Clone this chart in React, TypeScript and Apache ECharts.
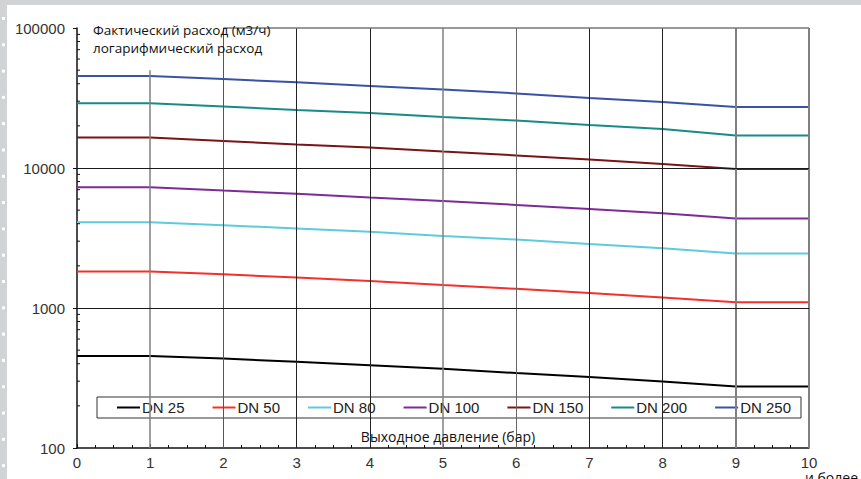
import React, { useEffect, useRef } from "react";
import * as echarts from "echarts";

const pressures = [0, 1, 2, 3, 4, 5, 6, 7, 8, 9, 10];
const seriesNames = ["DN 25", "DN 50", "DN 80", "DN 100", "DN 150", "DN 200", "DN 250"];
const dn25 = [455, 455, 435, 413, 390, 368, 343, 321, 299, 275, 275];
const dn50 = [1820, 1820, 1740, 1650, 1560, 1460, 1370, 1280, 1190, 1100, 1100];
const dn80 = [4100, 4100, 3900, 3700, 3500, 3270, 3080, 2860, 2670, 2450, 2450];
const dn100 = [7300, 7300, 6900, 6550, 6150, 5800, 5450, 5100, 4750, 4350, 4350];
const dn150 = [16500, 16500, 15600, 14700, 14000, 13100, 12300, 11500, 10700, 9850, 9850];
const dn200 = [29000, 29000, 27500, 26000, 24700, 23100, 21800, 20300, 19000, 17100, 17100];
const dn250 = [45500, 45500, 43200, 40900, 38500, 36300, 34100, 31600, 29600, 27300, 27300];
const seriesValues = [dn25, dn50, dn80, dn100, dn150, dn200, dn250];
const seriesColors = ["#000000", "#f5302c", "#5ecbdd", "#7d2b98", "#7a1416", "#178b87", "#3a52a6"];

const yTickLabels = ["100", "1000", "10000", "100000"];
const yMinorTicks = [
  200, 300, 400, 500, 600, 700, 800, 900,
  2000, 3000, 4000, 5000, 6000, 7000, 8000, 9000,
  20000, 30000, 40000, 50000, 60000, 70000, 80000, 90000,
];
const gridXs = [1, 2, 3, 4, 5, 6, 7, 8, 9, 10];
const gridXColors = ["#808080", "#555555", "#222222", "#222222", "#808080", "#666666", "#222222", "#222222", "#808080", "#808080"];
const gridYs = [1000, 10000];

const titleText = "Фактический расход (м3/ч)\nлогарифмический расход";
const xAxisTitle = "Выходное давление (бар)";
const xAxisNote = "и более";

export default function App() {
  const ref = useRef<HTMLDivElement>(null);
  useEffect(() => {
    if (!ref.current) return;
    const chart = echarts.init(ref.current, null, { renderer: "svg" });

    const markData: any[] = [];
    gridXs.forEach((x, i) => {
      const top = x === 1 ? 50000 : 100000;
      const gray = gridXColors[i] === "#808080";
      markData.push([
        { coord: [x, top], lineStyle: { color: gridXColors[i], width: gray ? (x >= 9 ? 2 : 1.5) : 1, type: "solid" } },
        { coord: [x, 100] },
      ]);
    });
    gridYs.forEach((y) => {
      markData.push([
        { coord: [0, y], lineStyle: { color: "#1a1a1a", width: 1, type: "solid" } },
        { coord: [10, y] },
      ]);
    });
    markData.push([
      { coord: [2, 100000], lineStyle: { color: "#777777", width: 1.5, type: "solid" } },
      { coord: [10, 100000] },
    ]);

    const dots: any[] = [];
    for (let k = 0; k < 18; k++) {
      dots.push({ type: "rect", shape: { x: 2, y: 17 + k * 26.3, width: 3, height: 3 }, style: { fill: "#ffffff" }, silent: true });
    }

    const font = "'Liberation Sans', Arial, sans-serif";

    chart.setOption({
      animation: false,
      backgroundColor: "#ffffff",
      textStyle: { fontFamily: font },
      grid: { left: 77, right: 52, top: 28, bottom: 31, containLabel: false },
      legend: {
        data: seriesNames,
        left: 97,
        top: 397,
        padding: [3, 10, 3, 20],
        itemGap: 28,
        itemWidth: 23,
        itemHeight: 2,
        icon: "rect",
        borderColor: "#333333",
        borderWidth: 1,
        backgroundColor: "#ffffff",
        textStyle: { fontFamily: font, fontSize: 15, color: "#222222", padding: [0, 0, 0, -3] },
      },
      xAxis: {
        type: "value",
        min: 0,
        max: 10,
        interval: 1,
        axisLine: { show: true, lineStyle: { color: "#111111", width: 1.5 } },
        axisTick: { show: true, inside: true, length: 4, lineStyle: { color: "#111111" } },
        minorTick: { show: true, splitNumber: 4, length: 3, lineStyle: { color: "#111111" } },
        splitLine: { show: false },
        axisLabel: { color: "#333333", fontSize: 15, margin: 7, fontFamily: font },
      },
      yAxis: {
        type: "log",
        logBase: 10,
        min: 100,
        max: 100000,
        axisLine: { show: true, lineStyle: { color: "#111111", width: 1.5 } },
        axisTick: { show: true, inside: false, length: 4, lineStyle: { color: "#111111" } },
        splitLine: { show: false },
        axisLabel: {
          color: "#333333",
          fontSize: 15,
          margin: 12,
          fontFamily: font,
          formatter: (v: number) => {
            const s = String(Math.round(v));
            return yTickLabels.includes(s) ? s : "";
          },
        },
      },
      graphic: [
        { type: "rect", shape: { x: 0, y: 0, width: 861, height: 5 }, style: { fill: "#d2d3d5" }, silent: true },
        { type: "rect", shape: { x: 0, y: 0, width: 7, height: 479 }, style: { fill: "#d2d3d5" }, silent: true },
        ...dots,
        {
          type: "text",
          x: 93,
          y: 21,
          style: { text: titleText, font: "13.5px 'Open Sans', sans-serif", fill: "#111111", lineHeight: 18, align: "left", verticalAlign: "top" },
          z: 10,
        },
        {
          type: "text",
          x: 448,
          y: 436,
          style: { text: xAxisTitle, font: "14px 'Open Sans', sans-serif", fill: "#111111", align: "center", verticalAlign: "middle" },
          z: 10,
        },
        {
          type: "text",
          x: 805,
          y: 470,
          style: { text: xAxisNote, font: "14px 'Open Sans', sans-serif", fill: "#111111", align: "left", verticalAlign: "top" },
          z: 10,
        },
      ],
      series: [
        {
          type: "line",
          name: "__grid",
          data: [],
          silent: true,
          z: 1,
          markLine: { silent: true, symbol: "none", label: { show: false }, data: markData, animation: false },
        },
        {
          type: "custom",
          name: "__minor",
          silent: true,
          clip: false,
          z: 5,
          encode: { x: 0, y: 1 },
          data: yMinorTicks.map((v) => [0, v]),
          renderItem: (params: any, api: any) => {
            const p = api.coord([api.value(0), api.value(1)]);
            return {
              type: "line",
              shape: { x1: p[0], y1: p[1], x2: p[0] + 3, y2: p[1] },
              style: { stroke: "#111111", lineWidth: 1 },
            };
          },
        },
        ...seriesNames.map((name, i) => ({
          type: "line",
          name,
          data: pressures.map((x, j) => [x, seriesValues[i][j]]),
          symbol: "none",
          showSymbol: false,
          color: seriesColors[i],
          lineStyle: { color: seriesColors[i], width: 2 },
          z: 3,
        })),
      ],
    });
    return () => chart.dispose();
  }, []);
  return <div ref={ref} style={{ position: "absolute", left: 0, top: 0, width: 861, height: 479 }} />;
}
